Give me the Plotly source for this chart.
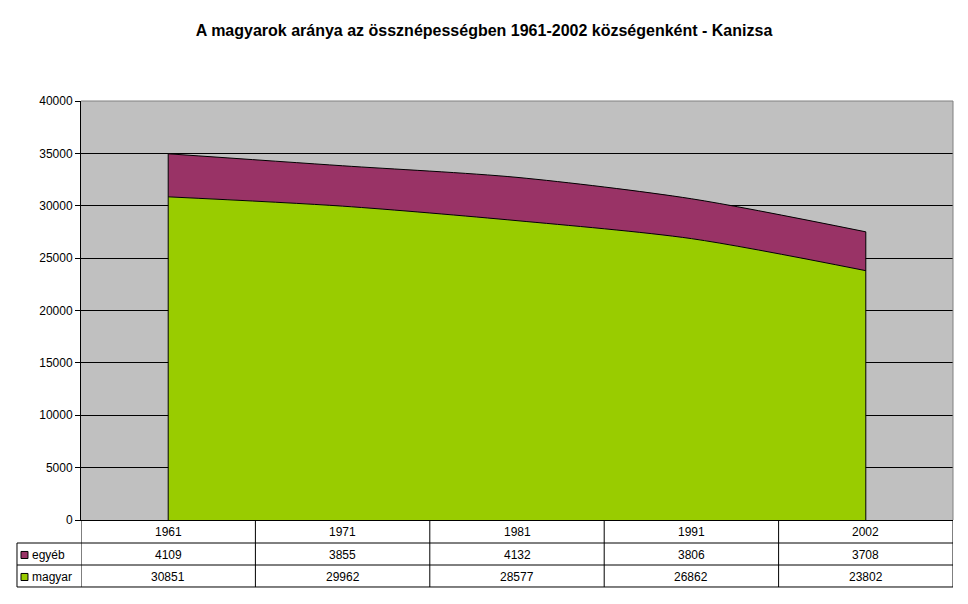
"""
Magyar népesség aránya - Kanizsa, 1961-2002
Stacked area chart with an Excel-style data table underneath.
"""

import plotly.graph_objects as go

# --- data ---------------------------------------------------------------
years = ["1961", "1971", "1981", "1991", "2002"]
magyar = [30851, 29962, 28577, 26862, 23802]
egyeb = [4109, 3855, 4132, 3806, 3708]
series_names = ["egyéb", "magyar"]
y_ticks = [0, 5000, 10000, 15000, 20000, 25000, 30000, 35000, 40000]

GREEN = "#99CC00"
PURPLE = "#993366"
FONT = "Liberation Sans, Arial, sans-serif"
TXT = dict(size=12, family=FONT, color="black")

x_idx = list(range(len(years)))
totals = [m + e for m, e in zip(magyar, egyeb)]

fig = go.Figure()

# magyar at the bottom, egyéb stacked above it
fig.add_trace(go.Scatter(
    x=x_idx, y=magyar, name="magyar",
    stackgroup="one", mode="lines",
    line=dict(color="black", width=1, shape="spline", smoothing=0.8),
    fillcolor=GREEN,
))
fig.add_trace(go.Scatter(
    x=x_idx, y=egyeb, name="egyéb",
    stackgroup="one", mode="lines",
    line=dict(color="black", width=1, shape="spline", smoothing=0.8),
    fillcolor=PURPLE,
))

# vertical edges at both ends of the area
for i in (0, len(years) - 1):
    fig.add_trace(go.Scatter(
        x=[x_idx[i], x_idx[i]], y=[0, totals[i]],
        mode="lines", line=dict(color="black", width=1),
        hoverinfo="skip", showlegend=False,
    ))

# --- data table under the plot ------------------------------------------
row_y = {"header": -0.0286, "egyéb": -0.0835, "magyar": -0.1360}
row_lines = [-0.0549, -0.1074, -0.1599]
label_left = -0.0734  # paper x of the left edge of the label column

shapes = []
annotations = []

for i, yr in enumerate(years):
    for key, txt in (("header", yr), ("egyéb", str(egyeb[i])), ("magyar", str(magyar[i]))):
        annotations.append(dict(
            x=i, y=row_y[key], xref="x", yref="paper",
            xanchor="center", yanchor="middle",
            text=txt, showarrow=False, font=TXT,
        ))

# vertical column separators
for k in range(len(years) + 1):
    shapes.append(dict(
        type="line", xref="x", yref="paper",
        x0=k - 0.5, x1=k - 0.5, y0=0, y1=row_lines[-1],
        line=dict(color="black", width=1),
    ))

# horizontal row separators
for yl in row_lines:
    shapes.append(dict(
        type="line", xref="paper", yref="paper",
        x0=label_left, x1=1, y0=yl, y1=yl,
        line=dict(color="black", width=1),
    ))
shapes.append(dict(
    type="line", xref="paper", yref="paper",
    x0=label_left, x1=label_left, y0=row_lines[0], y1=row_lines[-1],
    line=dict(color="black", width=1),
))

# legend keys inside the label column
for name, color in zip(series_names, [PURPLE, GREEN]):
    yc = row_y[name]
    shapes.append(dict(
        type="rect", xref="paper", yref="paper",
        x0=-0.0688, x1=-0.0608, y0=yc - 0.0084, y1=yc + 0.0084,
        fillcolor=color, line=dict(color="black", width=1),
    ))
    annotations.append(dict(
        x=-0.0585, y=yc, xref="paper", yref="paper",
        xanchor="left", yanchor="middle",
        text=name, showarrow=False, font=TXT,
    ))

# gray frame on top and right of the plot area
shapes.append(dict(type="line", xref="paper", yref="paper", x0=0, x1=1, y0=1, y1=1,
                   line=dict(color="#808080", width=1)))
shapes.append(dict(type="line", xref="paper", yref="paper", x0=1, x1=1, y0=0, y1=1,
                   line=dict(color="#808080", width=1)))

fig.update_layout(
    width=968, height=604,
    margin=dict(l=81, r=15, t=101, b=84),
    paper_bgcolor="white",
    plot_bgcolor="#C0C0C0",
    showlegend=False,
    font=dict(family=FONT, size=12, color="black"),
    title=dict(
        text="<b>A magyarok aránya az össznépességben 1961-2002 községenként - Kanizsa</b>",
        x=0.5, xref="container", xanchor="center",
        y=0.949, yanchor="middle",
        font=dict(family=FONT, size=16, color="black"),
    ),
    shapes=shapes,
    annotations=annotations,
)

fig.update_xaxes(
    range=[-0.5, len(years) - 0.5],
    showticklabels=False, showgrid=False, zeroline=False,
    showline=True, linecolor="black", linewidth=1,
    fixedrange=True,
)
fig.update_yaxes(
    range=[0, 40000], tickvals=y_ticks,
    tickformat="d",
    showgrid=True, gridcolor="black", gridwidth=1,
    zeroline=False,
    showline=True, linecolor="black", linewidth=1,
    ticks="outside", ticklen=5, tickcolor="black",
    tickfont=TXT,
    fixedrange=True,
)

# drop the default body margin so the 968x604 figure fits the window
fig.write_html(
    "out.html",
    config={"displayModeBar": False},
    post_script="document.body.style.margin='0';",
)
